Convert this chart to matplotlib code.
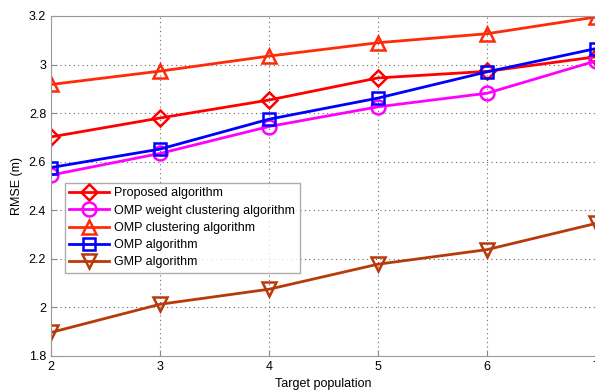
import matplotlib
matplotlib.use("Agg")
import matplotlib.pyplot as plt

plt.rcParams['font.family'] = ['Liberation Sans', 'DejaVu Sans']

targets = [2, 3, 4, 5, 6, 7]
proposed = [2.702, 2.78, 2.854, 2.945, 2.972, 3.032]
omp_weight = [2.545, 2.634, 2.745, 2.826, 2.882, 3.015]
omp_cluster = [2.918, 2.973, 3.035, 3.09, 3.127, 3.196]
omp = [2.576, 2.652, 2.775, 2.862, 2.97, 3.066]
gmp = [1.897, 2.013, 2.075, 2.178, 2.238, 2.346]

series = [
    ("Proposed algorithm", proposed, '#ff0000', 'D'),
    ("OMP weight clustering algorithm", omp_weight, '#ff00ff', 'o'),
    ("OMP clustering algorithm", omp_cluster, '#ff2a0a', '^'),
    ("OMP algorithm", omp, '#0000ff', 's'),
    ("GMP algorithm", gmp, '#b83a0a', 'v'),
]

fig = plt.figure(figsize=(5.95, 3.9), dpi=100)
ax = fig.add_axes([51 / 595, 34 / 390, 545 / 595, 340 / 390])

for label, vals, col, mk in series:
    ms = 8 if mk in ('D', 's') else 10
    ax.plot(targets, vals, color=col, lw=2, marker=mk, ms=ms,
            mfc='none', mec=col, mew=1.8, label=label)

ax.set_xlim(2, 7)
ax.set_ylim(1.8, 3.2)
ax.set_xticks(targets)
ax.set_yticks([1.8, 2.0, 2.2, 2.4, 2.6, 2.8, 3.0, 3.2])
ax.set_yticklabels(['1.8', '2', '2.2', '2.4', '2.6', '2.8', '3', '3.2'])
ax.grid(True, ls=(0, (1, 3)), color='#666666', lw=0.8)
ax.tick_params(direction='in', labelsize=9, length=4, color='#888888')
for s in ax.spines.values():
    s.set_color('#999999')
ax.set_xlabel('Target population', fontsize=9, labelpad=4)
ax.set_ylabel('RMSE (m)', fontsize=9, labelpad=4)

leg = ax.legend(loc='upper left', bbox_to_anchor=(14 / 545, 173 / 340),
                fontsize=9, frameon=True, fancybox=False, borderpad=0.35,
                labelspacing=0.42, handlelength=3.2, handletextpad=0.4,
                borderaxespad=0)
leg.get_frame().set_edgecolor('#999999')
leg.get_frame().set_linewidth(1.0)

fig.savefig('out.png', dpi=100)
